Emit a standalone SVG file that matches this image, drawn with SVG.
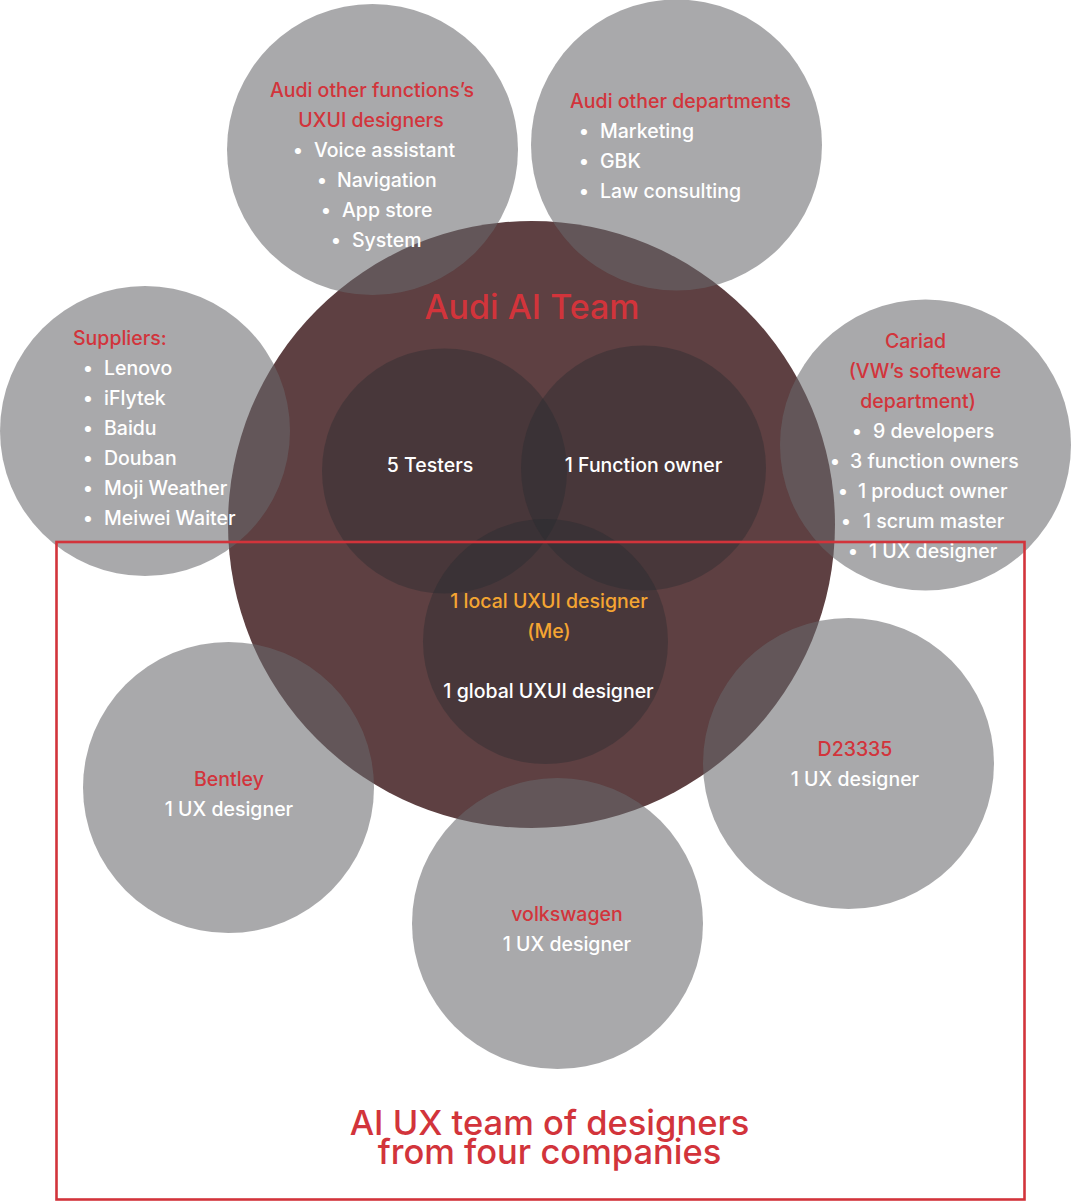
<svg xmlns="http://www.w3.org/2000/svg" width="1071" height="1202" viewBox="0 0 1071 1202">
<style>
.big{fill:#5e4042}
.gray{fill:#67686c;fill-opacity:0.57}
.inner{fill:#262b30;fill-opacity:0.38}
text{font-family:Inter,"Liberation Sans",sans-serif;font-weight:500;font-size:19.5px}
.h{fill:#d2343b}
.w{fill:#ffffff}
.o{fill:#f4a532}
.c{text-anchor:middle}
.t{font-size:34px}
.b{font-size:34.5px}
.frame{fill:none;stroke:#d2343b;stroke-width:2.6}
</style>
<rect width="1071" height="1202" fill="#ffffff"/>
<g id="audi-ai-team">
<circle class="big" cx="531.5" cy="524.5" r="303.5"/>
<text class="h c t" x="532" y="319">Audi AI Team</text>
</g>
<g id="testers">
<circle class="inner" cx="444.5" cy="471" r="122.5"/>
<text class="w c" x="430" y="472">5 Testers</text>
</g>
<g id="function-owner">
<circle class="inner" cx="643.5" cy="468" r="122.5"/>
<text class="w c" x="643.5" y="472">1 Function owner</text>
</g>
<g id="uxui-designers">
<circle class="inner" cx="545.5" cy="641.5" r="122.5"/>
<text class="o c" x="549" y="608">1 local UXUI designer</text>
<text class="o c" x="549" y="638">(Me)</text>
<text class="w c" x="548.5" y="698">1 global UXUI designer</text>
</g>
<g id="audi-other-functions">
<circle class="gray" cx="372.5" cy="149.5" r="145.5"/>
<text class="h c" x="372" y="97">Audi other functions’s</text>
<text class="h c" x="371" y="127">UXUI designers</text>
<text class="w c" x="298" y="157">•</text><text class="w" x="314" y="157">Voice assistant</text>
<text class="w c" x="322" y="187">•</text><text class="w" x="337" y="187">Navigation</text>
<text class="w c" x="326" y="217">•</text><text class="w" x="342" y="217">App store</text>
<text class="w c" x="336" y="247">•</text><text class="w" x="352" y="247">System</text>
</g>
<g id="audi-other-departments">
<circle class="gray" cx="676.5" cy="145" r="145.5"/>
<text class="h c" x="680.5" y="108">Audi other departments</text>
<text class="w c" x="584" y="138">•</text><text class="w" x="600" y="138">Marketing</text>
<text class="w c" x="584" y="168">•</text><text class="w" x="600" y="168">GBK</text>
<text class="w c" x="584" y="198">•</text><text class="w" x="600" y="198">Law consulting</text>
</g>
<g id="suppliers">
<circle class="gray" cx="145" cy="431" r="145"/>
<text class="h" x="73" y="345">Suppliers:</text>
<text class="w c" x="88" y="375">•</text><text class="w" x="104" y="375">Lenovo</text>
<text class="w c" x="88" y="405">•</text><text class="w" x="104" y="405">iFlytek</text>
<text class="w c" x="88" y="435">•</text><text class="w" x="104" y="435">Baidu</text>
<text class="w c" x="88" y="465">•</text><text class="w" x="104" y="465">Douban</text>
<text class="w c" x="88" y="495">•</text><text class="w" x="104" y="495">Moji Weather</text>
<text class="w c" x="88" y="525">•</text><text class="w" x="104" y="525">Meiwei Waiter</text>
</g>
<g id="cariad">
<circle class="gray" cx="925.5" cy="445" r="145.5"/>
<text class="h c" x="915.5" y="348">Cariad</text>
<text class="h c" x="925" y="378">(VW’s softeware</text>
<text class="h c" x="918" y="408">department)</text>
<text class="w c" x="857" y="438">•</text><text class="w" x="873" y="438">9 developers</text>
<text class="w c" x="835" y="468">•</text><text class="w" x="850" y="468">3 function owners</text>
<text class="w c" x="843" y="498">•</text><text class="w" x="858" y="498">1 product owner</text>
<text class="w c" x="846" y="528">•</text><text class="w" x="863" y="528">1 scrum master</text>
<text class="w c" x="853" y="558">•</text><text class="w" x="869" y="558">1 UX designer</text>
</g>
<g id="bentley">
<circle class="gray" cx="228.5" cy="787.5" r="145.5"/>
<text class="h c" x="229" y="786">Bentley</text>
<text class="w c" x="229" y="816">1 UX designer</text>
</g>
<g id="d23335">
<circle class="gray" cx="848.5" cy="763.5" r="145.5"/>
<text class="h c" x="855" y="756">D23335</text>
<text class="w c" x="855" y="786">1 UX designer</text>
</g>
<g id="volkswagen">
<circle class="gray" cx="557.5" cy="923.5" r="145.5"/>
<text class="h c" x="567" y="921">volkswagen</text>
<text class="w c" x="567" y="951">1 UX designer</text>
</g>
<g id="ai-ux-team">
<rect class="frame" x="56.5" y="542" width="968" height="657.5"/>
<text class="h c b" x="549.5" y="1135">AI UX team of designers</text>
<text class="h c b" x="549.5" y="1164">from four companies</text>
</g>
<g id="connectors"/>
</svg>
